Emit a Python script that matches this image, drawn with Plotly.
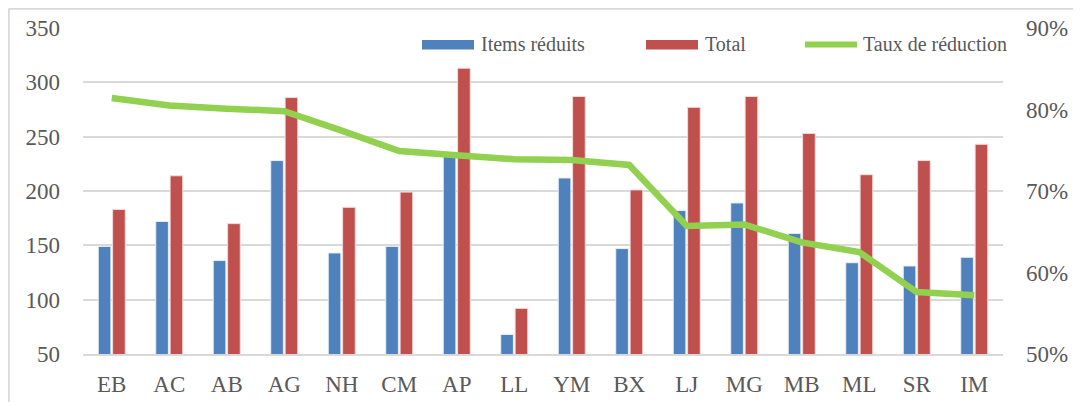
import plotly.graph_objects as go

categories = ["EB", "AC", "AB", "AG", "NH", "CM", "AP", "LL",
              "YM", "BX", "LJ", "MG", "MB", "ML", "SR", "IM"]
items_reduits = [149, 172, 136, 228, 143, 149, 233, 68,
                 212, 147, 182, 189, 161, 134, 131, 139]
total = [183, 214, 170, 286, 185, 199, 313, 92,
         287, 201, 277, 287, 253, 215, 228, 243]
taux_reduction = [0.814, 0.805, 0.801, 0.798, 0.774, 0.749, 0.744, 0.739,
                  0.738, 0.732, 0.657, 0.659, 0.637, 0.625, 0.576, 0.572]

left_ticks = [50, 100, 150, 200, 250, 300, 350]
right_ticks = [0.5, 0.6, 0.7, 0.8, 0.9]

BLUE = "#4F81BD"
RED = "#C0504D"
GREEN = "#92D050"
TXT = "#595959"
GRID = "#D9D9D9"
FONT = "Liberation Serif"

fig = go.Figure()
fig.add_trace(go.Bar(name="Items réduits", x=categories, y=items_reduits,
                     marker=dict(color=BLUE, line=dict(color="#E8EEF7", width=1)),
                     yaxis="y", showlegend=False))
fig.add_trace(go.Bar(name="Total", x=categories, y=total,
                     marker=dict(color=RED, line=dict(color="#F2DCDB", width=1)),
                     yaxis="y", showlegend=False))
fig.add_trace(go.Scatter(name="Taux de réduction", x=categories, y=taux_reduction,
                         mode="lines", line=dict(color=GREEN, width=6.5),
                         yaxis="y2", showlegend=False))

# The page body has an 8px margin, so the figure is drawn offset by 8px.
OFF = 8
FIG_W, FIG_H = 1081 - OFF, 402 - OFF
# plot area geometry in reference-window pixels
L, R, T, B = 83, 1003, 28, 354
W, H = R - L, B - T
def px(x):
    return (x - L) / W
def py(y):
    return (B - y) / H

shapes = [
    # chart outer border (left and top edges visible)
    dict(type="line", xref="paper", yref="paper",
         x0=px(8.8), x1=px(8.8), y0=py(420), y1=py(8.8),
         line=dict(color=GRID, width=1.8)),
    dict(type="line", xref="paper", yref="paper",
         x0=px(8.8), x1=px(1100), y0=py(8.8), y1=py(8.8),
         line=dict(color=GRID, width=1.8)),
    # legend symbols
    dict(type="rect", xref="paper", yref="paper",
         x0=px(422), x1=px(474), y0=py(49.5), y1=py(40),
         line=dict(width=0), fillcolor=BLUE),
    dict(type="rect", xref="paper", yref="paper",
         x0=px(646), x1=px(698), y0=py(49.5), y1=py(40),
         line=dict(width=0), fillcolor=RED),
    dict(type="line", xref="paper", yref="paper",
         x0=px(805), x1=px(857), y0=py(44.5), y1=py(44.5),
         line=dict(color=GREEN, width=6)),
]
annotations = [
    dict(text="Items réduits", x=px(479), y=py(44), xref="paper", yref="paper",
         xanchor="left", yanchor="middle", showarrow=False,
         font=dict(family=FONT, size=20, color=TXT)),
    dict(text="Total", x=px(703), y=py(44), xref="paper", yref="paper",
         xanchor="left", yanchor="middle", showarrow=False,
         font=dict(family=FONT, size=20, color=TXT)),
    dict(text="Taux de réduction", x=px(861), y=py(44), xref="paper", yref="paper",
         xanchor="left", yanchor="middle", showarrow=False,
         font=dict(family=FONT, size=20, color=TXT)),
]

fig.update_layout(
    width=FIG_W, height=FIG_H,
    margin=dict(l=L - OFF, r=FIG_W - (R - OFF), t=T - OFF, b=FIG_H - (B - OFF),
                autoexpand=False),
    paper_bgcolor="white", plot_bgcolor="white",
    barmode="group", bargap=0.5, bargroupgap=0.12,
    font=dict(family=FONT, color=TXT),
    shapes=shapes, annotations=annotations,
    xaxis=dict(showgrid=False, showline=True, linecolor=GRID, linewidth=2,
               ticks="", tickfont=dict(family=FONT, size=23, color=TXT),
               ticklabelstandoff=8, zeroline=False),
    yaxis=dict(range=[50, 350], tickvals=left_ticks, showgrid=True,
               gridcolor=GRID, gridwidth=2, zeroline=False, showline=False,
               ticks="", tickfont=dict(family=FONT, size=23, color=TXT),
               ticklabelstandoff=22),
    yaxis2=dict(range=[0.5, 0.9], tickvals=right_ticks, tickformat=".0%",
                overlaying="y", side="right", showgrid=False, zeroline=False,
                showline=False, ticks="",
                tickfont=dict(family=FONT, size=23, color=TXT),
                ticklabelstandoff=22),
    showlegend=False,
)

fig.write_html("out.html")
